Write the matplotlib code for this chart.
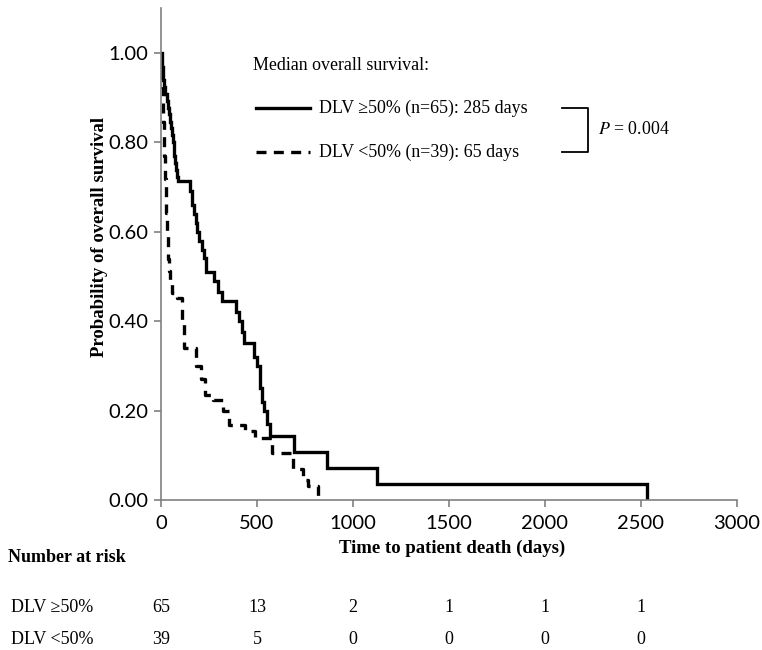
import matplotlib
matplotlib.use("Agg")
import matplotlib.pyplot as plt
import numpy as np

# Kaplan-Meier steps (day, survival)
hi_days = [0, 3, 6, 9, 12, 15, 20, 30, 35, 40, 45, 52, 58, 62, 66, 70, 73, 78, 82, 86,
           150, 160, 170, 180, 190, 200, 215, 225, 235, 275, 295, 318, 391, 405, 420,
           432, 484, 500, 515, 525, 535, 550, 568, 693, 865, 1125, 2532]
hi_surv = [1.0, 0.985, 0.969, 0.954, 0.938, 0.923, 0.908, 0.892, 0.877, 0.862, 0.846,
           0.831, 0.815, 0.800, 0.785, 0.769, 0.754, 0.738, 0.723, 0.714,
           0.69, 0.66, 0.64, 0.62, 0.60, 0.58, 0.56, 0.54, 0.51, 0.49, 0.465, 0.445,
           0.42, 0.40, 0.375, 0.35, 0.32, 0.30, 0.25, 0.22, 0.20, 0.17, 0.143, 0.107,
           0.071, 0.036, 0.0]

lo_days = [0, 2, 4, 6, 8, 10, 12, 14, 16, 18, 20, 22, 24, 26, 28, 30, 32, 35, 38, 42,
           48, 55, 83, 110, 120, 180, 210, 230, 271, 323, 354, 440, 490, 578, 620,
           688, 740, 766, 820]
lo_surv = [1.0, 0.974, 0.949, 0.923, 0.897, 0.872, 0.846, 0.821, 0.795, 0.769, 0.744,
           0.718, 0.692, 0.667, 0.641, 0.615, 0.590, 0.564, 0.538, 0.513, 0.487, 0.462,
           0.452, 0.40, 0.34, 0.30, 0.27, 0.235, 0.224, 0.20, 0.168, 0.155, 0.139,
           0.105, 0.105, 0.07, 0.045, 0.031, 0.0]

risk_times = [0, 500, 1000, 1500, 2000, 2500]
risk_hi = [65, 13, 2, 1, 1, 1]
risk_lo = [39, 5, 0, 0, 0, 0]

serif = 'Liberation Serif'
sans = 'Lato'
grey = '#808080'

fig = plt.figure(figsize=(7.62, 6.5), dpi=100)
ax = fig.add_axes([161/762, 1-500/650, (737-161)/762, (500-8)/650])

ax.step(hi_days, hi_surv, where='post', color='black', lw=2.4, solid_joinstyle='miter')
ax.step(lo_days, lo_surv, where='post', color='black', lw=2.4, dashes=(3, 2.2))

ax.set_xlim(0, 3000)
ax.set_ylim(0, 1.1)
ax.set_xticks(np.arange(0, 3001, 500))
ax.set_yticks(np.arange(0, 1.01, 0.2))
ax.set_yticklabels(['%.2f' % v for v in np.arange(0, 1.01, 0.2)])
for s in ['top', 'right']:
    ax.spines[s].set_visible(False)
for s in ['left', 'bottom']:
    ax.spines[s].set_color(grey)
    ax.spines[s].set_linewidth(1.2)
ax.tick_params(direction='out', length=5, color=grey, width=1.2, labelsize=14.5, pad=4)
ax.tick_params(axis='x', pad=6)
for lab in ax.get_xticklabels() + ax.get_yticklabels():
    lab.set_family(sans)

ax.set_ylabel('Probability of overall survival', family=serif, fontweight='bold',
              fontsize=13.5, va='center')
ax.yaxis.set_label_coords((99-161)/576, (500-237)/492)
ax.set_xlabel('Time to patient death (days)', family=serif, fontweight='bold',
              fontsize=13.5, va='center')
ax.xaxis.set_label_coords((452-161)/576, -(548-500)/492)

# legend drawn by hand
def px(x, y):
    return x / 762, 1 - y / 650

fs = 12.9
fig.text(*px(253, 66), 'Median overall survival:', family=serif, fontsize=fs,
         va='center')
fig.add_artist(plt.Line2D([256/762, 310/762], [1-108/650]*2, color='black', lw=2.4))
fig.add_artist(plt.Line2D([256/762, 310/762], [1-152/650]*2, color='black', lw=2.4,
                          dashes=(3, 2.2)))
fig.text(*px(319, 108), 'DLV \u226550% (n=65): 285 days', family=serif, fontsize=fs,
         va='center')
fig.text(*px(319, 152), 'DLV <50% (n=39): 65 days', family=serif, fontsize=fs,
         va='center')
fig.add_artist(plt.Line2D([562/762, 588/762, 588/762, 562/762],
                          [1-108/650, 1-108/650, 1-152/650, 1-152/650],
                          color='black', lw=1.3))
fig.text(*px(598, 130), r'$P$ = 0.004', family=serif, fontsize=fs, va='center',
         math_fontfamily='stix')

# number at risk table
fig.text(*px(8, 558), 'Number at risk', family=serif, fontweight='bold', fontsize=13,
         va='center')
fig.text(*px(11, 607), 'DLV \u226550%', family=serif, fontsize=13, va='center')
fig.text(*px(11, 639), 'DLV <50%', family=serif, fontsize=13, va='center')
trans = matplotlib.transforms.blended_transform_factory(ax.transData, fig.transFigure)
for t, a, b in zip(risk_times, risk_hi, risk_lo):
    fig.text(t, 1-607/650, str(a), family=serif, fontsize=13, va='center',
             ha='center', transform=trans)
    fig.text(t, 1-639/650, str(b), family=serif, fontsize=13, va='center',
             ha='center', transform=trans)

plt.savefig('out.png', dpi=100)
